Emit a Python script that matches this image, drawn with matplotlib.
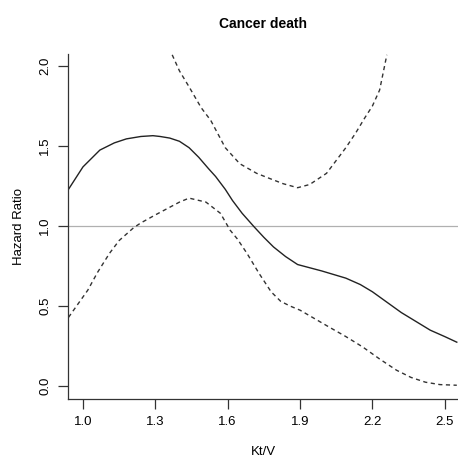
"""
Spline hazard ratio for cancer death vs Kt/V
"""
import matplotlib.pyplot as plt

plt.rcParams["font.family"] = ["Liberation Sans", "DejaVu Sans"]

# estimate
kt_v = [0.94, 1.00, 1.07, 1.13, 1.18, 1.24, 1.29, 1.32, 1.36, 1.40, 1.44, 1.48,
        1.52, 1.55, 1.59, 1.62, 1.66, 1.71, 1.75, 1.79, 1.84, 1.89, 1.99, 2.09,
        2.15, 2.20, 2.26, 2.32, 2.38, 2.44, 2.50, 2.55]
hr = [1.23, 1.37, 1.475, 1.52, 1.545, 1.56, 1.565, 1.56, 1.55, 1.53, 1.49, 1.43,
      1.36, 1.31, 1.23, 1.16, 1.08, 0.995, 0.93, 0.87, 0.81, 0.76, 0.72, 0.675,
      0.635, 0.59, 0.525, 0.46, 0.405, 0.35, 0.31, 0.275]

# upper 95% CI
up_x = [1.37, 1.40, 1.44, 1.49, 1.53, 1.59, 1.65, 1.72, 1.77, 1.83, 1.89, 1.94,
        2.01, 2.05, 2.09, 2.13, 2.17, 2.20, 2.23, 2.26]
up_y = [2.07, 1.97, 1.87, 1.74, 1.66, 1.49, 1.39, 1.33, 1.30, 1.265, 1.24, 1.26,
        1.33, 1.41, 1.49, 1.58, 1.68, 1.75, 1.85, 2.07]

# lower 95% CI
lo_x = [0.94, 1.02, 1.06, 1.11, 1.15, 1.21, 1.24, 1.30, 1.35, 1.40, 1.44, 1.51,
        1.57, 1.61, 1.64, 1.68, 1.73, 1.78, 1.82, 1.86, 1.90, 2.02, 2.09, 2.16,
        2.23, 2.30, 2.36, 2.42, 2.48, 2.55]
lo_y = [0.43, 0.60, 0.71, 0.83, 0.91, 0.99, 1.02, 1.07, 1.11, 1.15, 1.175, 1.15,
        1.08, 0.975, 0.92, 0.83, 0.705, 0.59, 0.53, 0.50, 0.475, 0.37, 0.31, 0.245,
        0.17, 0.10, 0.055, 0.025, 0.01, 0.006]

x_ticks = [1.0, 1.3, 1.6, 1.9, 2.2, 2.5]
y_ticks = [0.0, 0.5, 1.0, 1.5, 2.0]


fig = plt.figure(figsize=(4.58, 4.58), dpi=100)
ax = fig.add_axes([0.1485, 0.1288, 0.8515, 0.7532])

ax.axhline(1.0, color="#b0b0b0", lw=0.9)
ax.plot(kt_v, hr, color="#222222", lw=1.0)
ax.plot(up_x, up_y, color="#333333", lw=1.0, linestyle=(0, (3, 2.5)))
ax.plot(lo_x, lo_y, color="#333333", lw=1.0, linestyle=(0, (3, 2.5)))

ax.set_xlim(0.938, 2.555)
ax.set_ylim(-0.08, 2.075)

ax.set_xticks(x_ticks)
ax.set_xticklabels([f"{t:.1f}" for t in x_ticks])
ax.set_yticks(y_ticks)
ax.set_yticklabels([f"{t:.1f}" for t in y_ticks], rotation=90, va="center")

ax.tick_params(length=7, width=0.9, color="#333333", labelsize=9.5, pad=5)
for side in ["top", "right"]:
    ax.spines[side].set_visible(False)
for side in ["left", "bottom"]:
    ax.spines[side].set_color("#333333")
    ax.spines[side].set_linewidth(0.9)

ax.set_xlabel("Kt/V", fontsize=9.5, labelpad=13)
ax.set_ylabel("Hazard Ratio", fontsize=9.5, labelpad=10)
ax.set_title("Cancer death", fontsize=10, fontweight="bold", pad=19)

plt.savefig("out.png")
